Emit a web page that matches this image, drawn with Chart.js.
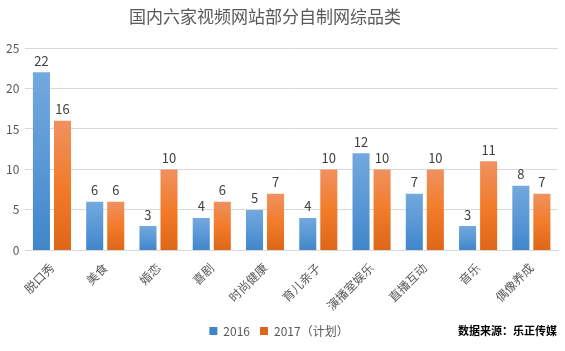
<!DOCTYPE html>
<html>
<head>
<meta charset="utf-8">
<script src="https://cdn.jsdelivr.net/npm/chart.js@4/dist/chart.umd.min.js"></script>
<style>
html,body{margin:0;padding:0;background:#fff;}
#wrap{width:565px;height:351px;position:relative;}
</style>
</head>
<body>
<div id="wrap"><canvas id="c"></canvas></div>
<script>
const categories = ["脱口秀","美食","婚恋","喜剧","时尚健康","育儿亲子","演播室娱乐","直播互动","音乐","偶像养成"];
const values2016 = [22,6,3,4,5,4,12,7,3,8];
const values2017 = [16,6,10,6,7,10,10,10,11,7];
const yTicks = [0,5,10,15,20,25];
const titleText = "国内六家视频网站部分自制网综品类";
const sourceText = "数据来源：乐正传媒";
const FONT = "'Noto Sans CJK SC','Microsoft YaHei',sans-serif";

function gradFill(stops){
  return function(ctx){
    const chart = ctx.chart;
    if(!chart.chartArea || ctx.raw === undefined) return stops[stops.length-1];
    const y = chart.scales.y;
    const top = y.getPixelForValue(ctx.raw);
    const base = y.getPixelForValue(0);
    if(!isFinite(top) || !isFinite(base) || top===base) return stops[stops.length-1];
    const g = chart.ctx.createLinearGradient(0, top, 0, base);
    stops.forEach((c,i)=>g.addColorStop(i/(stops.length-1), c));
    return g;
  };
}

const valueLabels = {
  id:'valueLabels',
  afterDatasetsDraw(chart){
    const c = chart.ctx;
    c.save();
    c.font = "13px " + FONT;
    c.fillStyle = "#404040";
    c.textAlign = "center";
    c.textBaseline = "bottom";
    chart.data.datasets.forEach((ds,i)=>{
      const meta = chart.getDatasetMeta(i);
      meta.data.forEach((el,j)=>{
        c.fillText(String(ds.data[j]), el.x, el.y - 5);
      });
    });
    c.restore();
  }
};

const textPlugin = {
  id:'extraText',
  afterDraw(chart){
    const c = chart.ctx;
    c.save();
    c.font = "17px " + FONT;
    c.fillStyle = "#595959";
    c.textAlign = "center";
    c.textBaseline = "middle";
    c.fillText(titleText, 265, 17);
    c.font = "bold 11px " + FONT;
    c.fillStyle = "#000";
    c.textAlign = "right";
    c.fillText(sourceText, 557, 331);
    c.restore();
  }
};

new Chart(document.getElementById('c'), {
  type:'bar',
  data:{
    labels: categories,
    datasets:[
      {label:'2016', data: values2016,
       backgroundColor: gradFill(['#72a9de','#5b98d6','#3f86c9']),
       categoryPercentage:0.79, barPercentage:0.81},
      {label:'2017（计划）', data: values2017,
       backgroundColor: gradFill(['#f09160','#f27c2a','#dd6618']),
       categoryPercentage:0.79, barPercentage:0.81}
    ]
  },
  options:{
    responsive:true,
    maintainAspectRatio:false,
    animation:false,
    layout:{padding:{left:0,right:7,top:48,bottom:4}},
    plugins:{
      title:{display:false},
      legend:{position:'bottom',
        labels:{color:'#595959', boxWidth:8, boxHeight:8, padding:10,
          font:{family:FONT,size:12}}},
      tooltip:{enabled:false}
    },
    scales:{
      x:{
        grid:{display:false},
        border:{color:'#d9d9d9'},
        ticks:{color:'#595959', minRotation:45, maxRotation:45, autoSkip:false,
          font:{family:FONT,size:12}, padding:2}
      },
      y:{
        min:0, max:25,
        afterBuildTicks(axis){ axis.ticks = yTicks.map(v=>({value:v})); },
        grid:{color:'#d9d9d9', drawTicks:false},
        border:{display:false},
        ticks:{color:'#595959', font:{family:FONT,size:12}, padding:6}
      }
    }
  },
  plugins:[valueLabels, textPlugin]
});
</script>
</body>
</html>
